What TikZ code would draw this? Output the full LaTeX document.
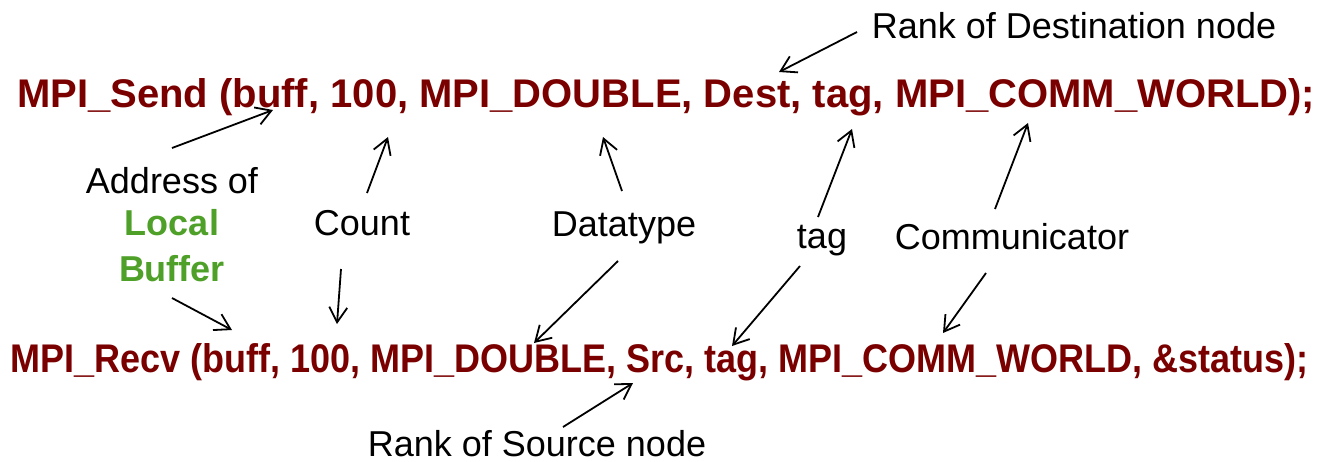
\documentclass[tikz,border=0pt]{standalone}
\usepackage{fontspec}
\setmainfont{Liberation Sans}
\usetikzlibrary{arrows.meta, positioning}
\definecolor{codeRed}{RGB}{122, 0, 0}
\definecolor{bufGreen}{RGB}{78, 160, 40}
\tikzset{
  code/.style={anchor=base west, inner sep=0pt, text=codeRed, font=\fontsize{40}{44}\selectfont\bfseries},
  lbl/.style={anchor=base, inner sep=0pt, font=\fontsize{36}{40}\selectfont},
  pointer/.style={-{Straight Barb[length=15pt, width=18pt]}, line width=1.8pt}
}
\begin{document}
\begin{tikzpicture}[x=1pt, y=-1pt]
  \useasboundingbox (0,0) rectangle (1319,461);
  % the two calls
  \node[code] (send) at (17,107) {MPI\_Send (buff, 100, MPI\_DOUBLE, Dest, tag, MPI\_COMM\_WORLD);};
  \node[code] (recv) at (10,372) {\scalebox{0.9}[1]{MPI\_Recv (buff, 100, MPI\_DOUBLE, Src, tag, MPI\_COMM\_WORLD, \&status);}};
  % labels
  \node[lbl] (addr) at (172,193) {Address of};
  \node[lbl, text=bufGreen, font=\fontsize{36}{40}\selectfont\bfseries] (local) at (172,235) {Local};
  \node[lbl, text=bufGreen, font=\fontsize{36}{40}\selectfont\bfseries] (buffer) at (172,281) {Buffer};
  \node[lbl] (count) at (362,235) {Count};
  \node[lbl] (dtype) at (624,236) {Datatype};
  \node[lbl] (tagl) at (822,248) {tag};
  \node[lbl] (comm) at (1012,249) {Communicator};
  \node[lbl] (dest) at (1074,38) {Rank of Destination node};
  \node[lbl] (src) at (537,456) {Rank of Source node};
  % where the arrows point
  \coordinate (sendBuff) at (273,110);
  \coordinate (sendCount) at (388,137);
  \coordinate (sendType) at (603,137);
  \coordinate (sendDest) at (779,72);
  \coordinate (sendTag) at (852,129);
  \coordinate (sendComm) at (1028,123);
  \coordinate (recvBuff) at (232,330);
  \coordinate (recvCount) at (337,324);
  \coordinate (recvType) at (534,343);
  \coordinate (recvSrc) at (633,383);
  \coordinate (recvTag) at (732,346);
  \coordinate (recvComm) at (943,333);
  % arrows
  \draw[pointer] ([shift={(0,-45)}]addr.base) -- (sendBuff);
  \draw[pointer] ([shift={(0,17)}]buffer.base) -- (recvBuff);
  \draw[pointer] ([shift={(5,-42)}]count.base) -- (sendCount);
  \draw[pointer] ([shift={(-21,34)}]count.base) -- (recvCount);
  \draw[pointer] ([shift={(-2,-45)}]dtype.base) -- (sendType);
  \draw[pointer] ([shift={(-6,25)}]dtype.base) -- (recvType);
  \draw[pointer] ([shift={(-4,-31)}]tagl.base) -- (sendTag);
  \draw[pointer] ([shift={(-22,18)}]tagl.base) -- (recvTag);
  \draw[pointer] ([shift={(-17,-40)}]comm.base) -- (sendComm);
  \draw[pointer] ([shift={(-26,24)}]comm.base) -- (recvComm);
  \draw[pointer] ([shift={(-217,-6)}]dest.base) -- (sendDest);
  \draw[pointer] ([shift={(26,-29)}]src.base) -- (recvSrc);
\end{tikzpicture}
\end{document}
